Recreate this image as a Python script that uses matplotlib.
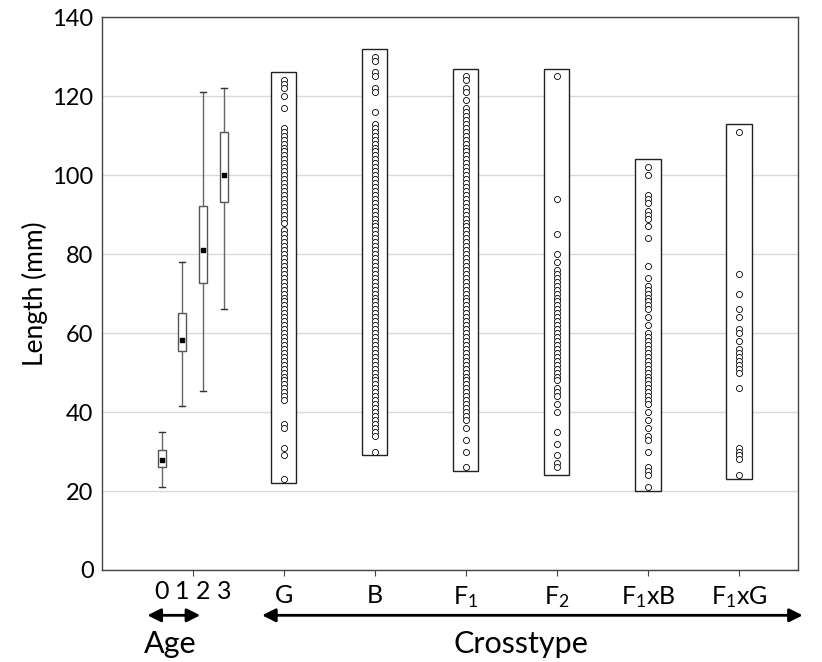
import matplotlib
matplotlib.use('Agg')
import matplotlib.pyplot as plt
import matplotlib.transforms as mtransforms
from matplotlib.patches import Rectangle

plt.rcParams['font.family'] = ['Lato', 'DejaVu Sans']
plt.rcParams['mathtext.fontset'] = 'custom'
plt.rcParams['mathtext.rm'] = 'Lato'
plt.rcParams['mathtext.default'] = 'regular'

# length by age (box summaries, mm)
age_labels = ['0', '1', '2', '3']
age_whislo = [21, 41.5, 45.3, 66]
age_q1 = [26.2, 55.4, 72.8, 93.2]
age_med = [27.8, 58.3, 81, 100]
age_q3 = [30.3, 65, 92.3, 111]
age_whishi = [35, 78, 121, 122]

# individual lengths by crosstype (mm)
cross_labels = ['G', 'B', 'F$_1$', 'F$_2$', 'F$_1$xB', 'F$_1$xG']
len_G = [124, 123, 122, 120, 117, 112, 111, 110, 109, 108, 107, 106, 105,
         104, 103, 102, 101, 100, 99, 98, 97, 96, 95, 94, 93, 92, 91, 90,
         89, 88, 86, 85, 84, 83, 82, 81, 80, 79, 78, 77, 76, 75, 74, 73, 72,
         71, 70, 69, 68, 67, 66, 65, 64, 63, 62, 61, 60, 59, 58, 57, 56, 55,
         54, 53, 52, 51, 50, 49, 48, 47, 46, 45, 44, 43, 37, 36, 31, 29, 23]
len_B = [130, 129, 126, 125, 122, 121, 116, 113, 112, 111, 110, 109, 108,
         107, 106, 105, 104, 103, 102, 101, 100, 99, 98, 97, 96, 95, 94, 93,
         92, 91, 90, 89, 88, 87, 86, 85, 84, 83, 82, 81, 80, 79, 78, 77, 76,
         75, 74, 73, 72, 71, 70, 69, 68, 67, 66, 65, 64, 63, 62, 61, 60, 59,
         58, 57, 56, 55, 54, 53, 52, 51, 50, 49, 48, 47, 46, 45, 44, 43, 42,
         41, 40, 39, 38, 37, 36, 35, 34, 30]
len_F1 = [125, 124, 122, 121, 119, 117, 116, 115, 114, 113, 112, 111, 110,
          109, 108, 107, 106, 105, 104, 103, 102, 101, 100, 99, 98, 97, 96,
          95, 94, 93, 92, 91, 90, 89, 88, 87, 86, 85, 84, 83, 82, 81, 80, 79,
          78, 77, 76, 75, 74, 73, 72, 71, 70, 69, 68, 67, 66, 65, 64, 63, 62,
          61, 60, 59, 58, 57, 56, 55, 54, 53, 52, 51, 50, 49, 48, 47, 46, 45,
          44, 43, 42, 41, 40, 39, 38, 36, 33, 30, 26]
len_F2 = [125, 94, 85, 80, 78, 76, 75, 74, 73, 72, 71, 70, 69, 68, 67, 66,
          65, 64, 63, 62, 61, 60, 59, 58, 57, 56, 55, 54, 53, 52, 51, 50, 49,
          48, 46, 45, 44, 42, 40, 35, 32, 29, 27, 26]
len_F1xB = [102, 100, 95, 94, 93, 91, 90, 89, 87, 84, 77, 74, 72, 71, 70, 69,
            68, 67, 66, 64, 62, 60, 59, 58, 57, 56, 55, 54, 53, 52, 51, 50,
            49, 48, 47, 46, 45, 44, 43, 42, 40, 38, 36, 34, 33, 30, 26, 25,
            24, 21]
len_F1xG = [111, 75, 70, 66, 64, 61, 60, 58, 56, 55, 54, 53, 52, 51, 50, 46,
            31, 30, 29, 28, 24]
cross_min = [22, 29, 25, 24, 20, 23]
cross_max = [126, 132, 127, 127, 104, 113]

cross_data = [len_G, len_B, len_F1, len_F2, len_F1xB, len_F1xG]

fig = plt.figure(figsize=(8.22, 6.62), dpi=100)
ax = fig.add_axes([0.124, 0.139, 0.847, 0.835])

age_x = [0.66, 0.88, 1.11, 1.34]
cross_x = [2, 3, 4, 5, 6, 7]

# age box plots
stats = []
for i in range(len(age_labels)):
    stats.append({'med': age_med[i], 'q1': age_q1[i], 'q3': age_q3[i],
                  'whislo': age_whislo[i], 'whishi': age_whishi[i]})
ax.bxp(stats, positions=age_x, widths=0.088, showfliers=False,
       patch_artist=True, manage_ticks=False,
       boxprops=dict(facecolor='white', edgecolor='#555555', linewidth=1),
       whiskerprops=dict(color='#666666', linewidth=1),
       capprops=dict(color='#333333', linewidth=1),
       medianprops=dict(linewidth=0), capwidths=0.06, zorder=3)
ax.scatter(age_x, age_med, marker='s', s=11, color='black', zorder=4)

# crosstype range boxes with individual fish
for x, vals, lo, hi in zip(cross_x, cross_data, cross_min, cross_max):
    ax.add_patch(Rectangle((x - 0.1375, lo), 0.275, hi - lo,
                           facecolor='white', edgecolor='#222222',
                           linewidth=1, zorder=2))
    ax.scatter([x] * len(vals), vals, s=19, facecolor='white',
               edgecolor='black', linewidth=0.6, zorder=3)

ax.set_xlim(0, 7.65)
ax.set_ylim(0, 140)
ax.set_yticks(range(0, 141, 20))
ax.yaxis.grid(True, color='#d9d9d9', linewidth=1)
ax.set_axisbelow(True)
for sp in ax.spines.values():
    sp.set_color('#444444')
    sp.set_linewidth(1)

ax.set_xticks([1] + cross_x)
ax.set_xticklabels([''] + cross_labels, fontsize=18)
ax.tick_params(axis='x', length=4, pad=6, color='#444444')
ax.tick_params(axis='y', length=0, pad=6, labelsize=17)
ax.set_ylabel('Length (mm)', fontsize=19, labelpad=3)

trans = mtransforms.blended_transform_factory(ax.transData, ax.transAxes)
for x, lab in zip(age_x, age_labels):
    ax.text(x, -0.0185, lab, transform=trans, fontsize=18,
            ha='center', va='top')

# group arrows
ax.annotate('', xy=(0.5, -0.082), xytext=(1.08, -0.082), xycoords=trans,
            textcoords=trans,
            arrowprops=dict(arrowstyle='<|-|>', color='black', lw=2,
                            mutation_scale=20, shrinkA=0, shrinkB=0))
ax.annotate('', xy=(1.76, -0.082), xytext=(7.7, -0.082), xycoords=trans,
            textcoords=trans,
            arrowprops=dict(arrowstyle='<|-|>', color='black', lw=2,
                            mutation_scale=20, shrinkA=0, shrinkB=0))
ax.text(0.75, -0.108, 'Age', transform=trans, fontsize=22,
        ha='center', va='top')
ax.text(4.6, -0.108, 'Crosstype', transform=trans, fontsize=22,
        ha='center', va='top')

fig.savefig('out.png', dpi=100)
